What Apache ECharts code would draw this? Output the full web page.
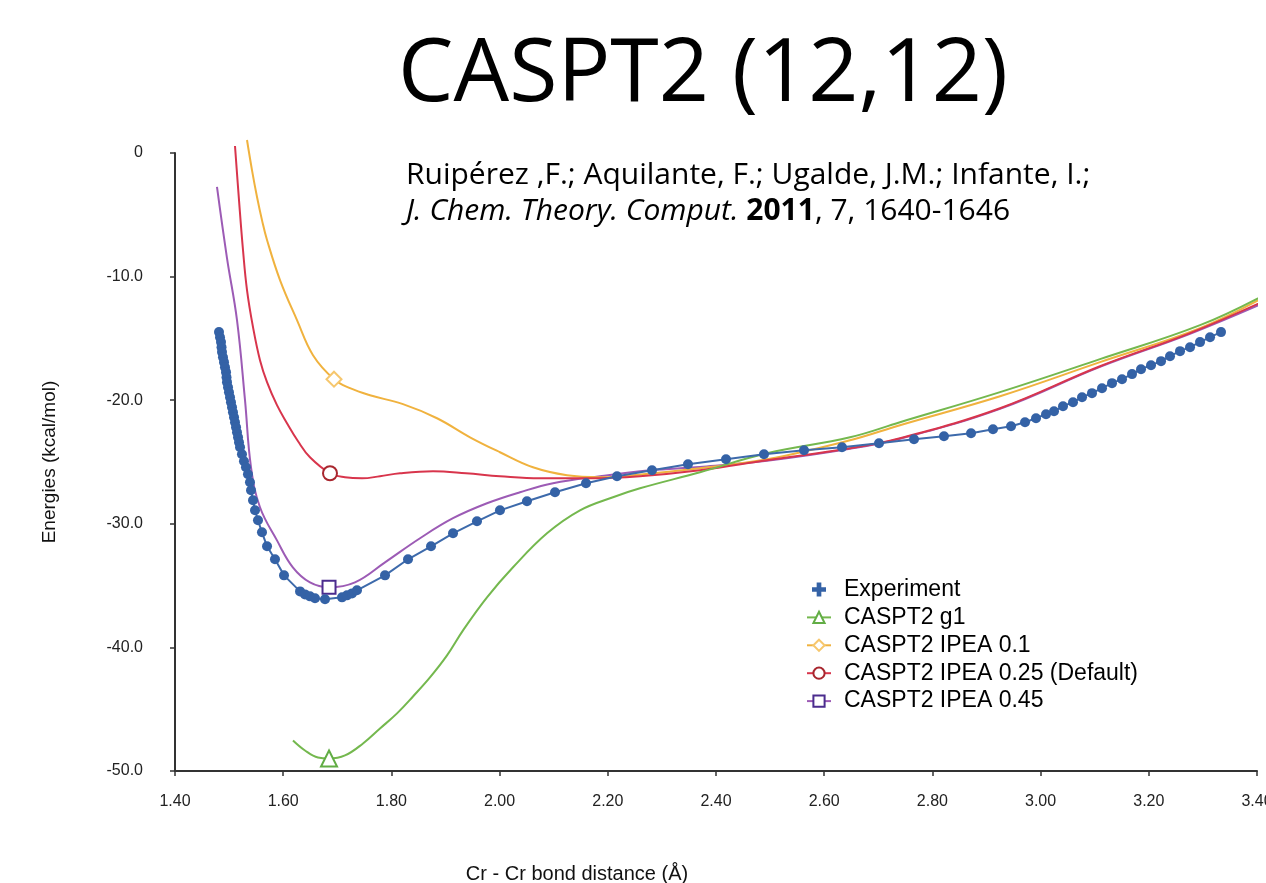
<!DOCTYPE html>
<html>
<head>
<meta charset="utf-8">
<title>CASPT2 (12,12)</title>
<script src="https://cdn.jsdelivr.net/npm/echarts@6/dist/echarts.min.js"></script>
<style>
  html, body { margin: 0; padding: 0; background: #fff; }
  #chart { width: 1266px; height: 883px; }
</style>
</head>
<body>
<div id="chart"></div>
<script>
// bond distance (Å), energy (kcal/mol)
const experiment = [
  [1.4813, -14.49], [1.4832, -14.90], [1.4850, -15.30], [1.4860, -15.71], [1.4869, -16.11],
  [1.4887, -16.52], [1.4906, -16.92], [1.4924, -17.33], [1.4943, -17.73], [1.4952, -18.14],
  [1.4961, -18.54], [1.4980, -18.95], [1.4998, -19.35], [1.5017, -19.76], [1.5035, -20.16],
  [1.5054, -20.57], [1.5072, -20.97], [1.5091, -21.38], [1.5109, -21.78], [1.5128, -22.19],
  [1.5146, -22.59], [1.5165, -23.00], [1.5183, -23.40], [1.5202, -23.81], [1.5238, -24.37],
  [1.5275, -24.94], [1.5312, -25.43], [1.5349, -25.99], [1.5386, -26.64], [1.5405, -27.29],
  [1.5442, -28.10], [1.5479, -28.91], [1.5534, -29.72], [1.5608, -30.69], [1.5701, -31.82],
  [1.5848, -32.87], [1.6015, -34.17], [1.6311, -35.47], [1.6403, -35.71], [1.6495, -35.87],
  [1.6588, -36.03], [1.6773, -36.11], [1.7087, -35.95], [1.7179, -35.79], [1.7272, -35.63],
  [1.7364, -35.38], [1.7882, -34.17], [1.8307, -32.87], [1.8732, -31.82], [1.9139, -30.77],
  [1.9582, -29.80], [2.0007, -28.91], [2.0506, -28.18], [2.1024, -27.45], [2.1597, -26.72],
  [2.2170, -26.15], [2.2817, -25.67], [2.3482, -25.18], [2.4185, -24.78], [2.4887, -24.37],
  [2.5627, -24.05], [2.6329, -23.81], [2.7013, -23.48], [2.7660, -23.16], [2.8214, -22.92],
  [2.8714, -22.67], [2.9120, -22.35], [2.9453, -22.11], [2.9712, -21.78], [2.9915, -21.46],
  [3.0100, -21.13], [3.0248, -20.89], [3.0414, -20.49], [3.0599, -20.16], [3.0766, -19.76],
  [3.0950, -19.43], [3.1135, -19.03], [3.1320, -18.62], [3.1505, -18.30], [3.1690, -17.89],
  [3.1856, -17.49], [3.2041, -17.17], [3.2226, -16.84], [3.2392, -16.44], [3.2577, -16.03],
  [3.2762, -15.71], [3.2947, -15.30], [3.3132, -14.90], [3.3335, -14.49]
];

const caspt2G1 = [
  [1.6181, -47.53], [1.6403, -48.34], [1.6643, -48.91], [1.6847, -48.99], [1.7142, -48.74],
  [1.7475, -47.77], [1.7789, -46.56], [1.8104, -45.34], [1.8399, -43.97], [1.8713, -42.43],
  [1.9028, -40.65], [1.9324, -38.62], [1.9767, -35.95], [2.0248, -33.52], [2.0876, -30.77],
  [2.1486, -28.91], [2.2096, -27.85], [2.2595, -27.13], [2.3704, -25.83], [2.4943, -24.29],
  [2.6477, -23.00], [2.7401, -21.78], [2.9250, -19.35], [3.1098, -16.68], [3.2947, -13.93],
  [3.4166, -11.42]
];

const ipea010 = [
  [1.5331, 1.05], [1.5423, -1.38], [1.5516, -3.56], [1.5608, -5.43], [1.5701, -7.04],
  [1.5941, -10.28], [1.6255, -13.52], [1.6551, -16.36], [1.6939, -18.30], [1.7235, -19.03],
  [1.7604, -19.60], [1.8214, -20.32], [1.8843, -21.46], [1.9453, -23.00], [2.0007, -24.21],
  [2.0617, -25.43], [2.1246, -26.07], [2.1856, -26.23], [2.2466, -26.07], [2.3704, -25.51],
  [2.4943, -24.78], [2.6477, -23.24], [2.7401, -22.02], [2.9250, -19.68], [3.1098, -16.92],
  [3.2947, -14.17], [3.4166, -11.58]
];

const ipea025 = [
  [1.5109, 0.57], [1.5183, -3.81], [1.5257, -7.85], [1.5331, -11.09], [1.5442, -14.09],
  [1.5571, -16.76], [1.5701, -18.54], [1.5885, -20.40], [1.6070, -21.86], [1.6274, -23.32],
  [1.6495, -24.62], [1.6865, -25.91], [1.7142, -26.23], [1.7457, -26.32], [1.7789, -26.15],
  [1.8159, -25.91], [1.8769, -25.75], [1.9379, -25.91], [2.0007, -26.15], [2.0747, -26.32],
  [2.1671, -26.32], [2.2595, -26.15], [2.3704, -25.67], [2.4943, -24.86], [2.6477, -23.89],
  [2.7401, -23.08], [2.9250, -20.65], [3.1098, -17.25], [3.2762, -14.57], [3.4166, -11.90]
];

const ipea045 = [
  [1.4776, -2.75], [1.4961, -8.50], [1.5146, -13.52], [1.5294, -20.00], [1.5405, -25.43],
  [1.5571, -28.66], [1.5885, -31.34], [1.6178, -33.52], [1.6495, -34.74], [1.6847, -35.14],
  [1.7327, -34.74], [1.7882, -33.12], [1.8529, -31.17], [1.9139, -29.55], [1.9767, -28.34],
  [2.0377, -27.45], [2.0987, -26.72], [2.1856, -26.15], [2.2780, -25.67], [2.3704, -25.40],
  [2.4943, -24.90], [2.6477, -23.93], [2.7401, -23.12], [2.9250, -20.70], [3.1098, -17.30],
  [3.2762, -14.62], [3.4111, -12.15]
];

const legendNames = [
  'Experiment',
  'CASPT2 g1',
  'CASPT2 IPEA 0.1',
  'CASPT2 IPEA 0.25 (Default)',
  'CASPT2 IPEA 0.45'
];

const PLUS = 'path://M4,0H8V4H12V8H8V12H4V8H0V4H4Z';

// a computed curve: smooth line, one hollow marker near the minimum
function curve(name, points, markIdx, symbol, lineColor, markColor, size, z) {
  return {
    name: name,
    type: 'line',
    data: points,
    smooth: 0.4,
    clip: false,
    symbol: symbol,
    symbolSize: (v, p) => (p.dataIndex === markIdx ? size : 0),
    showAllSymbol: true,
    lineStyle: { width: 2, color: lineColor },
    itemStyle: { color: markColor, borderWidth: 1.6 },
    z: z
  };
}

const chart = echarts.init(document.getElementById('chart'), null, { renderer: 'canvas' });

chart.setOption({
  animation: false,
  backgroundColor: '#fff',
  textStyle: { fontFamily: 'Liberation Sans, Arial, sans-serif' },
  title: [
    {
      text: 'CASPT2 (12,12)',
      left: 698,
      top: 27,
      textAlign: 'center',
      textStyle: { fontFamily: 'Open Sans', fontSize: 88, fontWeight: 'normal', color: '#000' }
    },
    {
      text: 'Ruipérez ,F.; Aquilante, F.; Ugalde, J.M.; Infante, I.;\n{i|J. Chem. Theory. Comput.} {b|2011}, 7, 1640-1646',
      left: 401,
      top: 152,
      textStyle: {
        fontFamily: 'Open Sans', fontSize: 30, fontWeight: 'normal', color: '#000', lineHeight: 36,
        rich: {
          i: { fontFamily: 'Open Sans', fontSize: 30, fontStyle: 'italic', color: '#000', lineHeight: 36 },
          b: { fontFamily: 'Open Sans', fontSize: 30, fontWeight: 'bold', color: '#000', lineHeight: 36 }
        }
      }
    }
  ],
  grid: { left: 175, right: 9, top: 153, bottom: 112, outerBoundsMode: 'none', containLabel: false },
  legend: {
    orient: 'vertical',
    left: 801,
    top: 573,
    itemWidth: 24,
    itemHeight: 14,
    itemGap: 4.9,
    textStyle: { fontFamily: 'Liberation Sans', fontSize: 23, lineHeight: 22, color: '#000', padding: [0, 0, 0, 8] },
    data: [
      { name: legendNames[0], icon: PLUS },
      legendNames[1], legendNames[2], legendNames[3], legendNames[4]
    ]
  },
  xAxis: {
    type: 'value',
    min: 1.4,
    max: 3.4,
    interval: 0.2,
    name: 'Cr - Cr bond distance (Å)',
    nameLocation: 'middle',
    nameGap: 93,
    nameTextStyle: { fontFamily: 'Liberation Sans', fontSize: 20, color: '#111', padding: [0, 278, 0, 0] },
    axisLine: { onZero: false, lineStyle: { color: '#333', width: 2 } },
    axisTick: { show: true, length: 5, lineStyle: { color: '#333', width: 1.5 } },
    axisLabel: { fontSize: 16, color: '#222', margin: 23, formatter: v => v.toFixed(2) },
    splitLine: { show: false }
  },
  yAxis: {
    type: 'value',
    min: -50,
    max: 0,
    interval: 10,
    name: 'Energies (kcal/mol)',
    nameLocation: 'middle',
    nameGap: 116,
    nameTextStyle: { fontFamily: 'Liberation Sans', fontSize: 19, color: '#111' },
    axisLine: { show: true, onZero: false, lineStyle: { color: '#333', width: 2 } },
    axisTick: { show: true, length: 5, lineStyle: { color: '#333', width: 1.5 } },
    axisLabel: { fontSize: 16, color: '#222', margin: 32, formatter: v => (v === 0 ? '0' : v.toFixed(1)) },
    splitLine: { show: false }
  },
  series: [
    curve(legendNames[1], caspt2G1, 3, 'emptyTriangle', '#74b84e', '#62ad45', 16, 4),
    curve(legendNames[2], ipea010, 8, 'emptyDiamond', '#f0b23e', '#f6c76e', 15, 3),
    curve(legendNames[3], ipea025, 11, 'emptyCircle', '#d8354c', '#a8262e', 14, 3),
    curve(legendNames[4], ipea045, 9, 'emptyRect', '#9c5bb5', '#4b2c8e', 13, 2),
    {
      name: legendNames[0],
      type: 'line',
      data: experiment,
      symbol: 'circle',
      symbolSize: 10,
      showAllSymbol: true,
      clip: false,
      lineStyle: { width: 2, color: '#3d6aab' },
      itemStyle: { color: '#3462a6' },
      z: 5
    }
  ]
});
</script>
</body>
</html>
